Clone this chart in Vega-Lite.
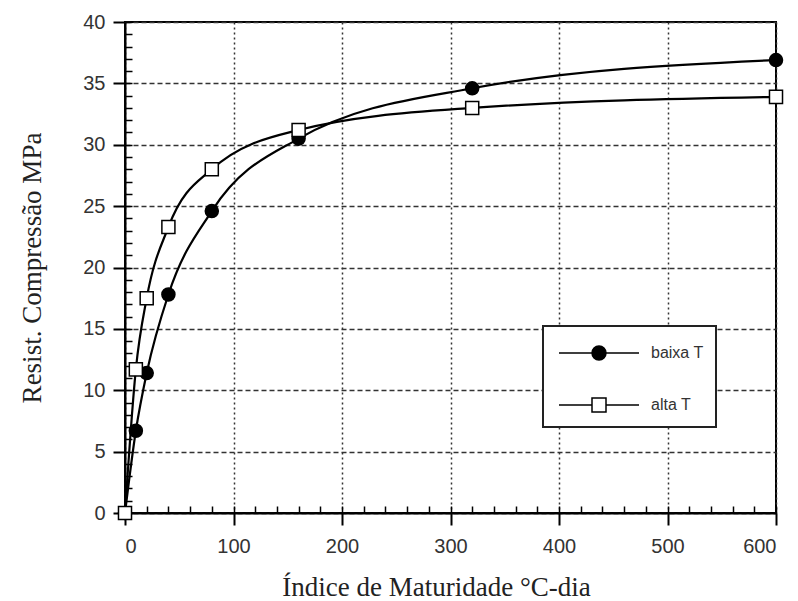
{
  "$schema": "https://vega.github.io/schema/vega-lite/v6.json",
  "width": 651,
  "height": 491,
  "autosize": {"type": "none"},
  "padding": {"left": 125, "top": 22, "right": 22, "bottom": 88},
  "background": "white",
  "config": {
    "view": {"stroke": "black", "strokeWidth": 2},
    "axis": {"labelFont": "Liberation Sans", "labelColor": "#333", "titleFont": "Liberation Serif", "titleFontWeight": "normal", "titleColor": "#222"},
    "legend": {"strokeWidth": 2}
  },
  "data": {
    "values": [
      {"series": "baixa T", "x": 0, "y": 0},
      {"series": "baixa T", "x": 10, "y": 6.7},
      {"series": "baixa T", "x": 20, "y": 11.4},
      {"series": "baixa T", "x": 40, "y": 17.8},
      {"series": "baixa T", "x": 80, "y": 24.6},
      {"series": "baixa T", "x": 160, "y": 30.5},
      {"series": "baixa T", "x": 320, "y": 34.6},
      {"series": "baixa T", "x": 600, "y": 36.9},
      {"series": "alta T", "x": 0, "y": 0},
      {"series": "alta T", "x": 10, "y": 11.7},
      {"series": "alta T", "x": 20, "y": 17.5},
      {"series": "alta T", "x": 40, "y": 23.3},
      {"series": "alta T", "x": 80, "y": 28.0},
      {"series": "alta T", "x": 160, "y": 31.2},
      {"series": "alta T", "x": 320, "y": 33.0},
      {"series": "alta T", "x": 600, "y": 33.9}
    ]
  },
  "layer": [
    {
      "mark": {"type": "line", "interpolate": "monotone", "color": "black", "strokeWidth": 2.2},
      "encoding": {
        "x": {
          "field": "x", "type": "quantitative",
          "scale": {"domain": [0, 600], "nice": false, "zero": false},
          "axis": {
            "orient": "bottom",
            "values": [0, 100, 200, 300, 400, 500, 600],
            "grid": true, "gridColor": "#333", "gridWidth": 1.5, "gridDash": [2, 3],
            "domainColor": "black", "domainWidth": 2,
            "tickColor": "black", "tickWidth": 2, "tickSize": 12,
            "labelFontSize": 20, "labelPadding": 11,
            "title": "Índice de Maturidade °C-dia", "titleFontSize": 27, "titlePadding": 18, "titleX": 311
          }
        },
        "y": {
          "field": "y", "type": "quantitative",
          "scale": {"domain": [0, 40], "nice": false, "zero": false},
          "axis": {
            "orient": "left",
            "values": [0, 5, 10, 15, 20, 25, 30, 35, 40],
            "grid": true, "gridColor": "#333", "gridWidth": 1.5, "gridDash": [5, 3],
            "domainColor": "black", "domainWidth": 2,
            "tickColor": "black", "tickWidth": 2, "tickSize": 12,
            "labelFontSize": 20, "labelPadding": 8,
            "title": "Resist. Compressão MPa", "titleFontSize": 27, "titlePadding": 36
          }
        },
        "detail": {"field": "series"}
      }
    },
    {
      "mark": {"type": "point", "filled": false, "stroke": "black", "strokeWidth": 1.5, "opacity": 1, "size": 170},
      "encoding": {
        "x": {
          "field": "x", "type": "quantitative",
          "axis": {
            "orient": "bottom",
            "values": [0, 20, 40, 60, 80, 100, 120, 140, 160, 180, 200, 220, 240, 260, 280, 300, 320, 340, 360, 380, 400, 420, 440, 460, 480, 500, 520, 540, 560, 580, 600],
            "grid": false, "domain": false, "labels": false, "title": null,
            "tickColor": "black", "tickWidth": 1.5, "tickSize": -7
          }
        },
        "y": {
          "field": "y", "type": "quantitative",
          "axis": {
            "orient": "left",
            "values": [0, 1, 2, 3, 4, 5, 6, 7, 8, 9, 10, 11, 12, 13, 14, 15, 16, 17, 18, 19, 20, 21, 22, 23, 24, 25, 26, 27, 28, 29, 30, 31, 32, 33, 34, 35, 36, 37, 38, 39, 40],
            "grid": false, "domain": false, "labels": false, "title": null,
            "tickColor": "black", "tickWidth": 1.5, "tickSize": -7
          }
        },
        "shape": {
          "field": "series", "type": "nominal",
          "scale": {"domain": ["baixa T", "alta T"], "range": ["circle", "square"]},
          "legend": null
        },
        "fill": {
          "field": "series", "type": "nominal",
          "scale": {"domain": ["baixa T", "alta T"], "range": ["black", "white"]},
          "legend": null
        }
      }
    },
    {
      "mark": {"type": "point", "filled": false, "strokeWidth": 1.5, "opacity": 0},
      "encoding": {
        "x": {"field": "x", "type": "quantitative", "axis": null},
        "y": {"field": "y", "type": "quantitative", "axis": null},
        "shape": {
          "field": "series", "type": "nominal",
          "scale": {"domain": ["baixa T", "alta T"], "range": ["M-2.86,0H2.86M0.5,0A0.5,0.5 0 1 1 -0.5,0A0.5,0.5 0 1 1 0.5,0Z", "M-2.86,0H-0.5M0.5,0H2.86M-0.5,-0.5H0.5V0.5H-0.5Z"]},
          "legend": {
            "title": null, "orient": "none", "legendX": 418, "legendY": 304,
            "padding": 12, "strokeColor": "#222", "fillColor": "white",
            "symbolOffset": 29, "labelOffset": 37, "rowPadding": 27,
            "symbolSize": 784, "symbolOpacity": 1, "symbolStrokeWidth": 1.5,
            "labelFont": "Liberation Sans", "labelFontSize": 16, "labelColor": "#333",
            "labelExpr": "datum.label + '        '"
          }
        },
        "fill": {
          "field": "series", "type": "nominal",
          "scale": {"domain": ["baixa T", "alta T"], "range": ["black", "white"]}
        },
        "stroke": {
          "field": "series", "type": "nominal",
          "scale": {"domain": ["baixa T", "alta T"], "range": ["black", "black"]}
        }
      }
    }
  ],
  "resolve": {
    "axis": {"x": "independent", "y": "independent"},
    "scale": {"shape": "independent", "fill": "independent", "stroke": "independent"}
  }
}
